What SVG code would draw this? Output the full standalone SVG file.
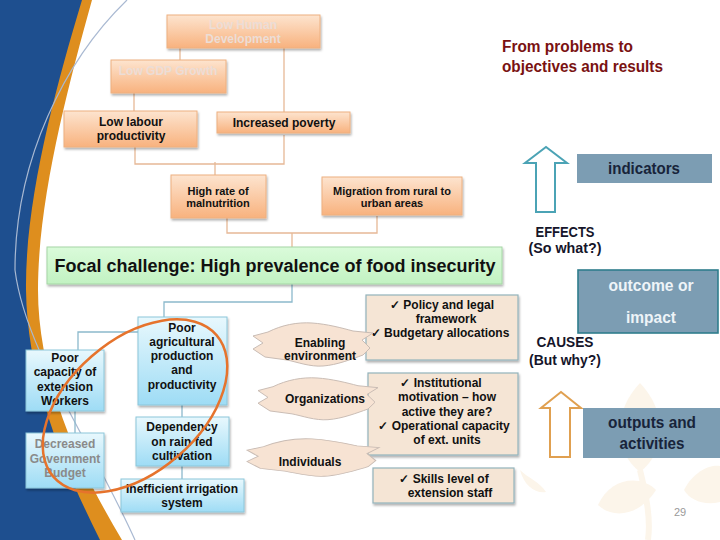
<svg xmlns="http://www.w3.org/2000/svg" width="720" height="540" viewBox="0 0 720 540">
<defs>
<linearGradient id="gOr" x1="0" y1="0" x2="0" y2="1"><stop offset="0" stop-color="#fde4cf"/><stop offset="1" stop-color="#f8b27e"/></linearGradient>
<linearGradient id="gBl" x1="0" y1="0" x2="0" y2="1"><stop offset="0" stop-color="#e8f8fd"/><stop offset="1" stop-color="#9edcf5"/></linearGradient>
<linearGradient id="gGr" x1="0" y1="0" x2="0" y2="1"><stop offset="0" stop-color="#dafbda"/><stop offset="1" stop-color="#c2f2c2"/></linearGradient>
<filter id="sh" x="-10%" y="-10%" width="125%" height="140%"><feDropShadow dx="1" dy="2" stdDeviation="1.3" flood-color="#000" flood-opacity="0.3"/></filter>
<path id="wave" d="M16,10 C30,3 45,0 60,1 C75,2 90,6 101,9 L121,11 L110,18 L118,26 L111,33 C100,37 85,43 71,44 C58,45 45,40 35,38 L13,35 L1,27 L11,21 L1,14 Z"/>
<style>
.t{font-family:"Liberation Sans",Arial,sans-serif;font-weight:bold;font-size:12px;fill:#111;text-anchor:middle}
.s11{font-size:11px}
.fade{fill:#ecddd6}
.grey{fill:#8a8a8a}
.or{fill:url(#gOr);stroke:#eeb080;stroke-width:1;filter:url(#sh)}
.bl{fill:url(#gBl);stroke:#8cc6d9;stroke-width:1;filter:url(#sh)}
.bg{fill:#f5e5d5;stroke:#93b3bb;stroke-width:1.2;filter:url(#sh)}
.wv{fill:#f7e3d3;stroke:#c9bcb4;stroke-width:1}
.c{font-family:"Liberation Sans",Arial,sans-serif;font-weight:bold;text-anchor:middle}
.cO{fill:none;stroke:#e6b896;stroke-width:1.3}
.cB{fill:none;stroke:#8cb9cc;stroke-width:1.3}
.rb{fill:#7c9db3}
</style>
</defs>

<rect width="720" height="540" fill="#ffffff"/>

<!-- background decoration -->
<g id="background">
<g fill="#fcf5ea">
<path d="M640,383 C614,410 612,450 640,472 C668,450 666,410 640,383 Z"/>
<path d="M598,505 C610,478 640,474 656,490 C640,515 614,520 598,505 Z"/>
<path d="M684,490 C694,470 712,464 720,466 L720,502 C704,506 690,500 684,490 Z"/>
<path d="M520,470 C528,478 540,482 546,492 C536,494 524,486 520,470 Z"/>
</g>
<path d="M640,470 C646,495 651,518 648,540" fill="none" stroke="#fcf5ea" stroke-width="6"/>
<path d="M0,0 L92,0 C67,90 38,200 38,290 C38,380 80,470 122,540 L0,540 Z" fill="#de8e1e"/>
<path d="M0,0 L82,0 C55,90 25,200 26,290 C27,380 65,470 100,540 L0,540 Z" fill="#1e4f8f"/>
<path d="M127,0 C65,60 15,160 15,270 C25,350 90,440 135,540" fill="none" stroke="#a9b9d2" stroke-width="1.2"/>
</g>

<!-- connectors -->
<g id="connectors">
<path class="cO" d="M180,48 V60"/>
<path class="cO" d="M284,48 V112"/>
<path class="cO" d="M134,93 V111"/>
<path class="cO" d="M135,147 V164 H284 V135"/>
<path class="cO" d="M215,162 V175"/>
<path class="cO" d="M227,218 V233 H377 V216"/>
<path class="cO" d="M292,233 V247"/>
<path class="cB" d="M292,284 V302 H164 V317"/>
<path class="cB" d="M78,350 V332 H138"/>
<path class="cB" d="M75,411 V433"/>
<path class="cB" d="M182,405 V417"/>
<path class="cB" d="M182,466 V479"/>
</g>

<!-- effect tree -->
<g id="low-human-development">
<rect class="or" x="167" y="15" width="153" height="33"/>
<text class="t fade" x="243" y="29">Low Human</text>
<text class="t fade" x="243" y="43">Development</text>
</g>
<g id="low-gdp-growth">
<rect class="or" x="111" y="60" width="115" height="33"/>
<text class="t fade" x="168" y="75">Low GDP Growth</text>
</g>
<g id="low-labour-productivity">
<rect class="or" x="64" y="111" width="133" height="36"/>
<text class="t" x="131" y="126">Low labour</text>
<text class="t" x="131" y="140">productivity</text>
</g>
<g id="increased-poverty">
<rect class="or" x="217" y="112" width="133" height="21"/>
<text class="t" x="284" y="127">Increased poverty</text>
</g>
<g id="high-rate-malnutrition">
<rect class="or" x="171" y="175" width="95" height="43"/>
<text class="t s11" x="218" y="195">High rate of</text>
<text class="t s11" x="218" y="207">malnutrition</text>
</g>
<g id="migration">
<rect class="or" x="322" y="177" width="140" height="38"/>
<text class="t s11" x="392" y="195">Migration from rural to</text>
<text class="t s11" x="392" y="207">urban areas</text>
</g>

<g id="focal-challenge">
<rect x="47" y="247" width="455" height="37" fill="url(#gGr)" stroke="#a6d6a6" stroke-width="1" filter="url(#sh)"/>
<text class="t" x="275" y="272" style="font-size:18px">Focal challenge: High prevalence of food insecurity</text>
</g>

<!-- cause tree -->
<g id="poor-agricultural-production">
<rect class="bl" x="138" y="317" width="89" height="88"/>
<text class="t" x="182" y="332">Poor</text>
<text class="t" x="182" y="346">agricultural</text>
<text class="t" x="182" y="360">production</text>
<text class="t" x="182" y="374">and</text>
<text class="t" x="182" y="389">productivity</text>
</g>
<g id="poor-capacity-extension">
<rect class="bl" x="26" y="350" width="78" height="61"/>
<text class="t" x="65" y="362">Poor</text>
<text class="t" x="65" y="376">capacity of</text>
<text class="t" x="65" y="391">extension</text>
<text class="t" x="65" y="405">Workers</text>
</g>
<g id="decreased-government-budget">
<rect class="bl" x="26" y="433" width="78" height="55"/>
<text class="t grey" x="65" y="448">Decreased</text>
<text class="t grey" x="65" y="463">Government</text>
<text class="t grey" x="65" y="477">Budget</text>
</g>
<g id="dependency-rain-fed">
<rect class="bl" x="136" y="417" width="93" height="49"/>
<text class="t" x="182" y="431">Dependency</text>
<text class="t" x="182" y="446">on rain fed</text>
<text class="t" x="182" y="460">cultivation</text>
</g>
<g id="inefficient-irrigation">
<rect class="bl" x="121" y="479" width="123" height="33"/>
<text class="t" x="182" y="493">Inefficient irrigation</text>
<text class="t" x="182" y="507">system</text>
</g>

<g id="highlight-ellipse">
<ellipse cx="135" cy="406" rx="108" ry="66" transform="rotate(-41 135 406)" fill="none" stroke="#e6732c" stroke-width="2.5"/>
</g>

<!-- capacity levels -->
<g id="policy-box">
<rect class="bg" x="366" y="295" width="152" height="65"/>
<text class="t" x="442" y="309">✓ Policy and legal</text>
<text class="t" x="446" y="323">framework</text>
<text class="t" x="440" y="337">✓ Budgetary allocations</text>
</g>
<g id="institutional-box">
<rect class="bg" x="368" y="373" width="150" height="82"/>
<text class="t" x="441" y="387">✓ Institutional</text>
<text class="t" x="447" y="401">motivation – how</text>
<text class="t" x="447" y="416">active they are?</text>
<text class="t" x="444" y="430">✓ Operational capacity</text>
<text class="t" x="447" y="444">of ext. units</text>
</g>
<g id="skills-box">
<rect class="bg" x="373" y="468" width="141" height="35"/>
<text class="t" x="444" y="483">✓ Skills level of</text>
<text class="t" x="450" y="497">extension staff</text>
</g>
<g id="enabling-environment">
<use href="#wave" class="wv" transform="translate(252,322)"/>
<text class="t" x="320" y="347">Enabling</text>
<text class="t" x="320" y="360">environment</text>
</g>
<g id="organizations">
<use href="#wave" class="wv" transform="translate(257,377) scale(1,0.97)"/>
<text class="t" x="325" y="403">Organizations</text>
</g>
<g id="individuals">
<use href="#wave" class="wv" transform="translate(246,438) scale(1.1,0.87)"/>
<text class="t" x="310" y="466">Individuals</text>
</g>

<!-- right panel -->
<g id="title">
<text class="c" x="502" y="52" style="text-anchor:start;font-size:16px;fill:#7a1212" textLength="131" lengthAdjust="spacingAndGlyphs">From problems to</text>
<text class="c" x="502" y="72" style="text-anchor:start;font-size:16px;fill:#7a1212" textLength="161" lengthAdjust="spacingAndGlyphs">objectives and results</text>
</g>
<g id="effects-arrow">
<polygon points="536,212 536,163 525,163 546,147 567,163 555,163 555,212" fill="#fff" stroke="#4ba3b5" stroke-width="2"/>
</g>
<g id="indicators">
<rect class="rb" x="577" y="154" width="135" height="29"/>
<text class="c" x="644" y="174" style="font-size:16px;fill:#18243a" textLength="72" lengthAdjust="spacingAndGlyphs">indicators</text>
</g>
<g id="effects-label">
<text class="c" x="565" y="237" style="font-size:14px;fill:#15152a" textLength="59" lengthAdjust="spacingAndGlyphs">EFFECTS</text>
<text class="c" x="565" y="253" style="font-size:14px;fill:#15152a" textLength="73" lengthAdjust="spacingAndGlyphs">(So what?)</text>
</g>
<g id="outcome-impact">
<rect class="rb" x="578" y="270" width="140" height="63" stroke="#2f7d8c" stroke-width="1.6"/>
<text class="c" x="651" y="291" style="font-size:16px;fill:#eef4f8" textLength="85" lengthAdjust="spacingAndGlyphs">outcome or</text>
<text class="c" x="651" y="323" style="font-size:16px;fill:#eef4f8" textLength="50" lengthAdjust="spacingAndGlyphs">impact</text>
</g>
<g id="causes-label">
<text class="c" x="565" y="347" style="font-size:14px;fill:#15152a" textLength="57" lengthAdjust="spacingAndGlyphs">CAUSES</text>
<text class="c" x="565" y="365" style="font-size:14px;fill:#15152a" textLength="72" lengthAdjust="spacingAndGlyphs">(But why?)</text>
</g>
<g id="causes-arrow">
<polygon points="550,457 550,408 541,408 561,392 581,408 570,408 570,457" fill="#fff" stroke="#e0a050" stroke-width="2"/>
</g>
<g id="outputs-activities">
<rect class="rb" x="583" y="408" width="137" height="50"/>
<text class="c" x="652" y="428" style="font-size:16px;fill:#18243a" textLength="88" lengthAdjust="spacingAndGlyphs">outputs and</text>
<text class="c" x="652" y="449" style="font-size:16px;fill:#18243a" textLength="65" lengthAdjust="spacingAndGlyphs">activities</text>
</g>
<text x="680" y="516" style="font-family:'Liberation Sans',Arial,sans-serif;font-size:11px;fill:#9a9a9a;text-anchor:middle">29</text>
</svg>
